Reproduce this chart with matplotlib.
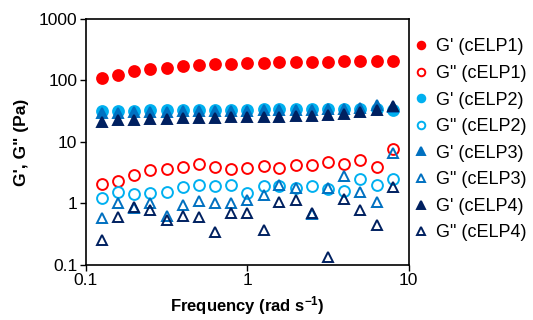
import matplotlib
matplotlib.use("Agg")
import matplotlib.pyplot as plt

plt.rcParams['font.family'] = ['Liberation Sans', 'DejaVu Sans']
plt.rcParams['mathtext.default'] = 'regular'

# frequency (rad/s)
freq = [0.126, 0.158, 0.2, 0.251, 0.316, 0.398, 0.501, 0.631, 0.794, 1.0,
        1.26, 1.58, 2.0, 2.51, 3.16, 3.98, 5.01, 6.31, 7.94]

# storage / loss moduli (Pa)
g1_store = [109, 124, 140, 151, 161, 169, 175, 182, 187, 191,
            194, 196, 199, 199, 201, 204, 206, 206, 206]
g1_loss = [2.04, 2.3, 2.85, 3.5, 3.57, 3.85, 4.35, 3.87, 3.68, 3.71,
           4.0, 3.71, 4.25, 4.2, 4.7, 4.31, 5.07, 3.95, 7.8]
g2_store = [32, 32, 32, 33, 33, 33, 33, 33, 33, 33,
            34, 34, 34, 34, 34, 34, 34, 34, 33]
g2_loss = [1.23, 1.52, 1.42, 1.46, 1.53, 1.86, 2.0, 1.94, 2.0, 1.49,
           1.92, 1.9, 1.78, 1.9, 1.7, 1.6, 2.5, 2.03, 2.5]
g3_store = [30, 30, 31, 31, 31, 32, 32, 32, 32, 32,
            33, 33, 33, 33, 34, 34, 36, 40, 37]
g3_loss = [0.59, 1.0, 0.85, 1.0, 0.62, 0.95, 1.1, 1.0, 1.02, 1.13,
           1.36, 1.98, 1.78, 0.68, 1.75, 2.78, 1.51, 1.06, 6.5]
g4_store = [21, 22.4, 22.9, 23.5, 23.8, 24.1, 24.4, 24.7, 25, 25.3,
            25.3, 25.7, 26, 26, 27.3, 28, 30.6, 33.3, 37.8]
g4_loss = [0.25, 0.61, 0.86, 0.78, 0.535, 0.62, 0.61, 0.345, 0.70, 0.69,
           0.37, 1.06, 1.13, 0.70, 0.135, 1.16, 0.78, 0.44, 1.86]

xticks = [0.1, 1, 10]
xticklabels = ['0.1', '1', '10']
yticks = [0.1, 1, 10, 100, 1000]
yticklabels = ['0.1', '1', '10', '100', '1000']

red = '#FF0000'
cyan = '#00B0F0'
blue = '#0070C0'
navy = '#002060'

fig = plt.figure(figsize=(5.33, 3.2), dpi=100)
ax = fig.add_axes([0.161, 0.172, 0.606, 0.769])

series = [
    (g1_store, 'o', red, True, "G' (cELP1)"),
    (g1_loss, 'o', red, False, 'G" (cELP1)'),
    (g2_store, 'o', cyan, True, "G' (cELP2)"),
    (g2_loss, 'o', cyan, False, 'G" (cELP2)'),
    (g3_store, '^', blue, True, "G' (cELP3)"),
    (g3_loss, '^', blue, False, 'G" (cELP3)'),
    (g4_store, '^', navy, True, "G' (cELP4)"),
    (g4_loss, '^', navy, False, 'G" (cELP4)'),
]
for vals, mk, col, filled, lab in series:
    ax.plot(freq, vals, linestyle='none', marker=mk, markersize=7.8,
            markerfacecolor=col if filled else 'none', markeredgecolor=col,
            markeredgewidth=1.4, label=lab)

ax.set_xscale('log')
ax.set_yscale('log')
ax.set_xlim(0.1, 10)
ax.set_ylim(0.1, 1000)
ax.minorticks_off()
ax.set_xticks(xticks)
ax.set_xticklabels(xticklabels)
ax.set_yticks(yticks)
ax.set_yticklabels(yticklabels)
ax.tick_params(direction='out', length=4, width=1, labelsize=12.5,
               colors='black', pad=2)
for s in ax.spines.values():
    s.set_linewidth(1.2)

ax.set_xlabel('Frequency (rad s$^{-1}$)', fontsize=12, fontweight='bold',
              labelpad=4)
ax.set_ylabel('G\', G" (Pa)', fontsize=12.5, fontweight='bold', labelpad=7)

ax.legend(loc='upper left', bbox_to_anchor=(1.0, 0.95), frameon=False,
          fontsize=13, markerscale=0.7, handlelength=0.6,
          handletextpad=0.5, labelspacing=0.53, borderpad=0.4,
          borderaxespad=0)

fig.savefig('out.png', dpi=100)
